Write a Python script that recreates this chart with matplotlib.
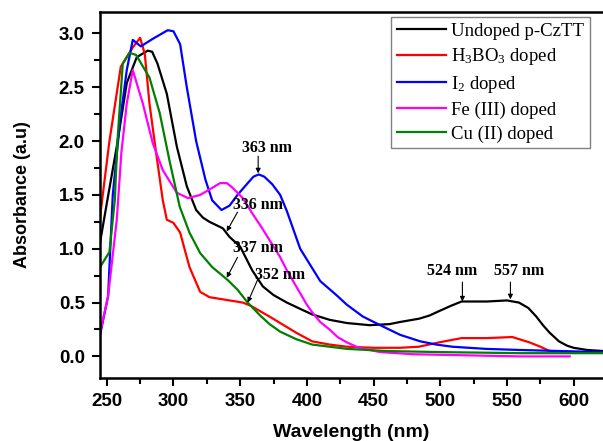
import matplotlib
matplotlib.use("Agg")
import matplotlib.pyplot as plt
from matplotlib.ticker import MultipleLocator

plt.rcParams['mathtext.fontset'] = 'custom'
plt.rcParams['mathtext.rm'] = 'Liberation Serif'
plt.rcParams['mathtext.it'] = 'Liberation Serif:italic'

# Undoped p-CzTT
wl_undoped = [245, 250, 257.5, 265, 272.5, 280.7, 284, 288, 295, 302.5, 310, 317, 322, 327, 337, 342,
              350, 359, 367, 375, 385, 397, 404, 417, 430, 447, 462, 470, 484, 492, 499, 508, 516, 525,
              535, 550, 559, 566, 572, 577, 582, 589, 595, 600, 610, 622]
abs_undoped = [1.06, 1.42, 1.95, 2.54, 2.78, 2.84, 2.83, 2.72, 2.44, 1.95, 1.58, 1.36, 1.29, 1.25, 1.19, 1.11,
               1.02, 0.8, 0.65, 0.57, 0.5, 0.43, 0.39, 0.34, 0.31, 0.29, 0.3, 0.32, 0.35, 0.38, 0.42, 0.47, 0.51, 0.51,
               0.51, 0.52, 0.5, 0.45, 0.37, 0.29, 0.22, 0.14, 0.1, 0.08, 0.06, 0.05]

# H3BO3 doped
wl_h3bo3 = [245, 252, 260.5, 269.5, 275, 278.5, 282, 287, 292, 295, 300, 305, 312, 320, 327, 342,
            352, 358, 365, 372, 380, 392, 404, 417, 430, 450, 470, 484, 499, 516, 535, 554, 567, 575,
            582, 600, 622]
abs_h3bo3 = [1.3, 2.0, 2.69, 2.87, 2.96, 2.81, 2.35, 1.89, 1.45, 1.27, 1.24, 1.15, 0.83, 0.6, 0.55, 0.52,
             0.5, 0.47, 0.42, 0.37, 0.31, 0.22, 0.14, 0.11, 0.09, 0.08, 0.08, 0.09, 0.13, 0.17, 0.17, 0.18, 0.13, 0.09,
             0.05, 0.04, 0.04]

# I2 doped
wl_i2 = [245, 251, 254.5, 260, 265, 269.5, 275.5, 284.5, 295.7, 300, 305, 310, 317, 324, 329, 336,
         342, 348, 355, 360, 364, 368, 374, 380, 385, 395, 410, 423, 430, 442, 455, 470, 485, 497,
         509, 534, 559, 589, 622]
abs_i2 = [0.2, 0.56, 1.5, 2.19, 2.66, 2.94, 2.88, 2.95, 3.03, 3.02, 2.9, 2.5, 2.0, 1.64, 1.45, 1.36,
          1.4, 1.5, 1.6, 1.67, 1.69, 1.67, 1.6, 1.5, 1.35, 1.0, 0.7, 0.56, 0.48, 0.37, 0.29, 0.2, 0.14, 0.11,
          0.09, 0.07, 0.06, 0.05, 0.04]

# Fe (III) doped
wl_fe = [245, 251, 257.5, 261, 265, 269.5, 277, 284.5, 292, 302.5, 311, 320, 327, 335, 340, 344,
         352, 359, 366, 372, 379.6, 385, 392, 400, 404, 410, 417, 423, 430, 439, 455, 480, 520, 560, 597]
abs_fe = [0.22, 0.56, 1.27, 1.9, 2.35, 2.66, 2.35, 1.98, 1.73, 1.52, 1.47, 1.5, 1.55, 1.61, 1.61, 1.57,
          1.47, 1.33, 1.2, 1.08, 0.93, 0.8, 0.65, 0.48, 0.41, 0.32, 0.25, 0.18, 0.13, 0.08, 0.04, 0.02, 0.01, 0.0, 0.0]

# Cu (II) doped
wl_cu = [245, 252, 256, 258, 262, 267, 272, 282, 289.7, 297, 304.7, 312, 320, 329, 340.6, 348,
         355.6, 365, 372, 380, 392, 404, 430, 460, 500, 560, 622]
abs_cu = [0.83, 0.97, 1.45, 2.0, 2.72, 2.82, 2.8, 2.59, 2.26, 1.82, 1.39, 1.15, 0.96, 0.83, 0.71, 0.62,
          0.5, 0.38, 0.3, 0.23, 0.16, 0.11, 0.07, 0.05, 0.04, 0.03, 0.03]

series = [
    (wl_undoped, abs_undoped, 'black', 'Undoped p-CzTT'),
    (wl_h3bo3, abs_h3bo3, 'red', 'H$_3$BO$_3$ doped'),
    (wl_i2, abs_i2, 'blue', 'I$_2$ doped'),
    (wl_fe, abs_fe, 'magenta', 'Fe (III) doped'),
    (wl_cu, abs_cu, 'green', 'Cu (II) doped'),
]

# peak labels: text, text position, arrow start, arrow tip
peak_labels = ['363 nm', '336 nm', '337 nm', '352 nm', '524 nm', '557 nm']
peak_text = [(370, 1.94), (363, 1.41), (363, 1.01), (379.6, 0.76), (509, 0.79), (559, 0.79)]
arrow_from = [(363.5, 1.86), (348, 1.34), (348, 0.92), (363, 0.71), (516.6, 0.69), (552.6, 0.69)]
arrow_to = [(363.5, 1.70), (339.9, 1.16), (339.9, 0.73), (355.6, 0.5), (516.6, 0.51), (552.6, 0.53)]

fig = plt.figure(figsize=(6.03, 4.41), dpi=100)
ax = fig.add_axes([0.166, 0.143, 0.834, 0.830])

for x, y, c, lab in series:
    ax.plot(x, y, color=c, lw=1.6, label=lab)

for lab, txt, a0, a1 in zip(peak_labels, peak_text, arrow_from, arrow_to):
    ax.annotate('', xy=a1, xytext=a0,
                arrowprops=dict(arrowstyle='-|>', color='black', lw=0.8,
                                mutation_scale=7, shrinkA=0, shrinkB=0))
    ax.text(txt[0], txt[1], lab, ha='center', va='center',
            fontsize=11.5, fontweight='bold', family='Liberation Serif')

ax.set_xlim(245, 622)
ax.set_ylim(-0.2, 3.2)
ax.xaxis.set_major_locator(MultipleLocator(50))
ax.xaxis.set_minor_locator(MultipleLocator(25))
ax.yaxis.set_major_locator(MultipleLocator(0.5))
ax.yaxis.set_minor_locator(MultipleLocator(0.25))
ax.tick_params(which='both', direction='out', width=1.5)
ax.tick_params(which='major', length=6, labelsize=13.5, pad=5)
ax.tick_params(which='minor', length=4)
for lbl in ax.get_xticklabels() + ax.get_yticklabels():
    lbl.set_fontweight('bold')
    lbl.set_family('Liberation Sans')
for s in ['left', 'bottom', 'top']:
    ax.spines[s].set_linewidth(1.8)
ax.spines['right'].set_visible(False)

ax.set_xlabel('Wavelength (nm)', fontsize=14, fontweight='bold', family='Liberation Sans', labelpad=10)
ax.set_ylabel('Absorbance (a.u)', fontsize=13, fontweight='bold', family='Liberation Sans', labelpad=20)

leg = ax.legend(loc='upper right', bbox_to_anchor=(0.974, 0.986), borderaxespad=0,
                prop={'family': 'Liberation Serif', 'size': 13.5}, fancybox=False,
                edgecolor='gray', framealpha=1, handlelength=2.6, handletextpad=0.3,
                labelspacing=0.35, borderpad=0.3)
leg.get_frame().set_linewidth(1.0)

fig.savefig('out.png', dpi=100)
